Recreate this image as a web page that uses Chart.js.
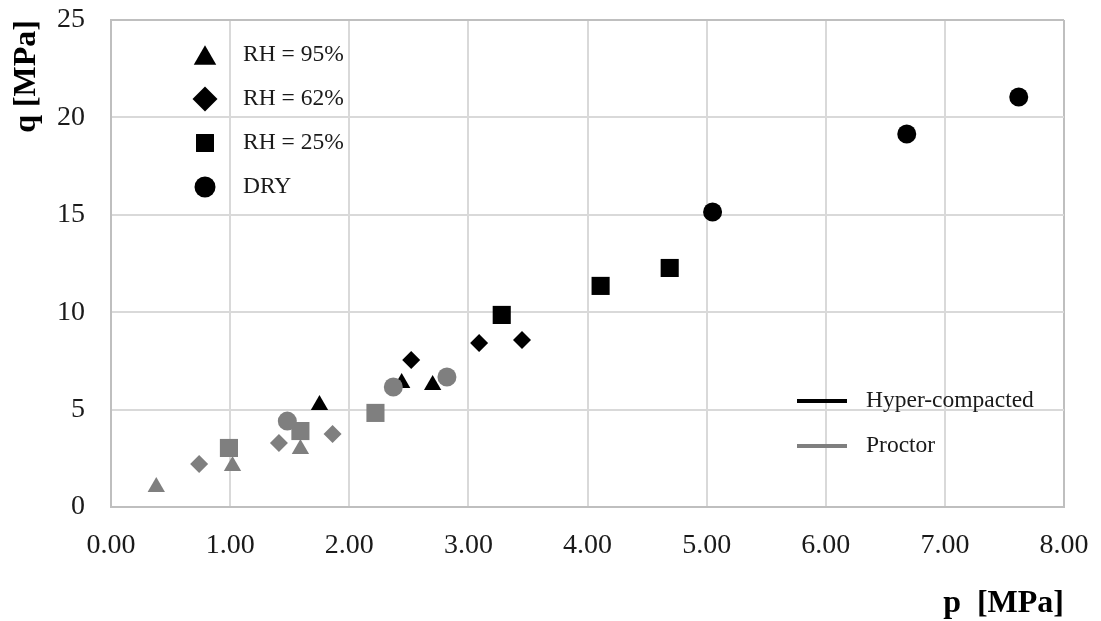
<!DOCTYPE html>
<html>
<head>
<meta charset="utf-8">
<title>p - q</title>
<script src="https://cdn.jsdelivr.net/npm/chart.js@4/dist/chart.umd.min.js"></script>
<style>
    html, body { margin: 0; padding: 0; background: #fff; }
    #wrap { width: 1101px; height: 621px; position: relative; }
</style>
</head>
<body>
<div id="wrap"><canvas id="pq"></canvas></div>
<script>
// Hyper-compacted samples (black)
const HYPER_RH95_P = [1.75, 2.44, 2.70];
const HYPER_RH95_Q = [5.24, 6.37, 6.26];
const HYPER_RH62_P = [2.52, 3.09, 3.45];
const HYPER_RH62_Q = [7.55, 8.42, 8.57];
const HYPER_RH25_P = [3.28, 4.11, 4.69];
const HYPER_RH25_Q = [9.86, 11.35, 12.27];
const HYPER_DRY_P = [5.05, 6.68, 7.62];
const HYPER_DRY_Q = [15.14, 19.15, 21.05];

// Proctor samples (grey)
const PROCTOR_RH95_P = [0.38, 1.02, 1.59];
const PROCTOR_RH95_Q = [1.03, 2.10, 2.98];
const PROCTOR_RH62_P = [0.74, 1.41, 1.86];
const PROCTOR_RH62_Q = [2.21, 3.29, 3.75];
const PROCTOR_RH25_P = [0.99, 1.59, 2.22];
const PROCTOR_RH25_Q = [3.03, 3.90, 4.83];
const PROCTOR_DRY_P = [1.48, 2.37, 2.82];
const PROCTOR_DRY_Q = [4.41, 6.16, 6.67];

const MARKER_LABELS = ['RH = 95%', 'RH = 62%', 'RH = 25%', 'DRY'];
const LINE_LABELS = ['Hyper-compacted', 'Proctor'];

const COLORS = {
    hyper: '#000000',
    proctor: '#7f7f7f',
    grid: '#d9d9d9',
    frame: '#bfbfbf',
    text: '#1a1a1a',
};

const FONT = "'Liberation Serif', 'Times New Roman', serif";

// marker shape + radius per humidity group
const SHAPES = [
    { style: 'triangle', r: 10, legendR: 13 },
    { style: 'rectRot', r: 9, legendR: 12.5 },
    { style: 'rect', r: 12.8, legendR: 12.7 },
    { style: 'circle', r: 9.5, legendR: 10.5 },
];

const pts = (ps, qs) => ps.map((p, i) => ({ x: p, y: qs[i] }));

function makeSet(label, data, color, shape, order) {
    return {
        label: label,
        data: data,
        showLine: false,
        pointStyle: shape.style,
        pointRadius: shape.r,
        pointHoverRadius: shape.r,
        pointBackgroundColor: color,
        pointBorderColor: color,
        pointBorderWidth: 0,
        order: order,
    };
}

const hyperSets = [
    pts(HYPER_RH95_P, HYPER_RH95_Q),
    pts(HYPER_RH62_P, HYPER_RH62_Q),
    pts(HYPER_RH25_P, HYPER_RH25_Q),
    pts(HYPER_DRY_P, HYPER_DRY_Q),
];
const proctorSets = [
    pts(PROCTOR_RH95_P, PROCTOR_RH95_Q),
    pts(PROCTOR_RH62_P, PROCTOR_RH62_Q),
    pts(PROCTOR_RH25_P, PROCTOR_RH25_Q),
    pts(PROCTOR_DRY_P, PROCTOR_DRY_Q),
];

const datasets = [];
hyperSets.forEach((d, i) => datasets.push(makeSet(LINE_LABELS[0] + ' ' + MARKER_LABELS[i], d, COLORS.hyper, SHAPES[i], 1)));
// grey markers sit on top of the black ones
proctorSets.forEach((d, i) => datasets.push(makeSet(LINE_LABELS[1] + ' ' + MARKER_LABELS[i], d, COLORS.proctor, SHAPES[i], 0)));

// Two hand-placed legends inside the plot (like the original figure)
const cornerLegends = {
    id: 'cornerLegends',
    afterDraw(chart) {
        const { ctx, chartArea: a } = chart;
        ctx.save();
        ctx.font = '23.5px ' + FONT;
        ctx.textBaseline = 'middle';
        ctx.textAlign = 'left';

        MARKER_LABELS.forEach((txt, i) => {
            const y = a.top + 35 + i * 44;
            const sh = SHAPES[i];
            // triangles are drawn around their centroid, nudge so the box is centred
            const dy = sh.style === 'triangle' ? sh.legendR * 0.25 : 0;
            ctx.fillStyle = COLORS.hyper;
            Chart.helpers.drawPoint(ctx, {
                pointStyle: sh.style,
                radius: sh.legendR,
                rotation: 0,
                borderWidth: 0,
            }, a.left + 94, y + dy);
            ctx.fillStyle = COLORS.text;
            ctx.fillText(txt, a.left + 132, y);
        });

        [COLORS.hyper, COLORS.proctor].forEach((col, i) => {
            const y = a.bottom - 106 + i * 45;
            ctx.strokeStyle = col;
            ctx.lineWidth = 4;
            ctx.beginPath();
            ctx.moveTo(a.right - 267, y);
            ctx.lineTo(a.right - 217, y);
            ctx.stroke();
            ctx.fillStyle = COLORS.text;
            ctx.fillText(LINE_LABELS[i], a.right - 198, y);
        });
        ctx.restore();
    }
};

const edgeColor = (max) => (c) => (c.tick && c.tick.value === max ? COLORS.frame : COLORS.grid);

new Chart(document.getElementById('pq'), {
    type: 'scatter',
    data: { datasets: datasets },
    plugins: [cornerLegends],
    options: {
        responsive: true,
        maintainAspectRatio: false,
        animation: false,
        layout: { padding: { left: 8, top: 20, right: 37, bottom: 0 } },
        plugins: {
            legend: { display: false },
            tooltip: { enabled: false },
        },
        scales: {
            x: {
                type: 'linear',
                min: 0,
                max: 8,
                afterFit: s => { s.height = 114; },
                // invisible tick marks give the label gap without padding the layout
                grid: { color: edgeColor(8), lineWidth: 2, drawTicks: true, tickLength: 22, tickColor: 'rgba(0,0,0,0)' },
                border: { color: COLORS.frame, width: 2 },
                ticks: {
                    stepSize: 1,
                    padding: 0,
                    color: COLORS.text,
                    font: { size: 28, family: FONT },
                    callback: v => v.toFixed(2),
                    maxRotation: 0,
                },
                title: {
                    display: true,
                    text: 'p  [MPa]',
                    align: 'end',
                    color: '#000',
                    font: { size: 32, weight: 'bold', family: FONT, lineHeight: 1 },
                    padding: { top: 0, bottom: 1 },
                },
            },
            y: {
                min: 0,
                max: 25,
                afterFit: s => { s.width = 103; },
                grid: { color: edgeColor(25), lineWidth: 2, drawTicks: true, tickLength: 26, tickColor: 'rgba(0,0,0,0)' },
                border: { color: COLORS.frame, width: 2 },
                ticks: {
                    stepSize: 5,
                    padding: 0,
                    color: COLORS.text,
                    font: { size: 28, family: FONT },
                },
                title: {
                    display: true,
                    text: 'q [MPa]',
                    align: 'end',
                    color: '#000',
                    font: { size: 32, weight: 'bold', family: FONT, lineHeight: 1 },
                    padding: { top: 3, bottom: 0 },
                },
            },
        },
    },
});
</script>
</body>
</html>
